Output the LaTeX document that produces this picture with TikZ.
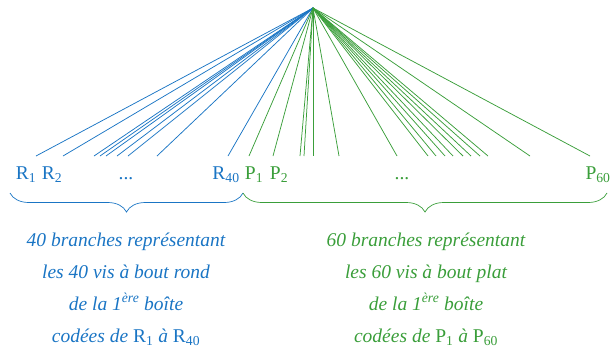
\documentclass[tikz,border=0pt]{standalone}
\usepackage{fontspec}
\setmainfont{Liberation Serif}
\usetikzlibrary{decorations.pathreplacing}
\definecolor{bl}{RGB}{26,117,196}
\definecolor{gr}{RGB}{58,158,58}
\tikzset{
  bline/.style={draw=bl, line width=0.75pt},
  gline/.style={draw=gr, line width=0.75pt},
  leaflab/.style={anchor=base, inner sep=0pt, font=\fontsize{19.5}{22}\selectfont},
  brc/.style={decorate, decoration={brace, mirror, amplitude=19pt}, line width=0.7pt},
  txt/.style={align=center, inner sep=0pt, font=\fontsize{19.5}{32}\selectfont\itshape}
}
\begin{document}
\begin{tikzpicture}[x=1pt,y=-1pt]
\useasboundingbox (0,0) rectangle (610,351);
\coordinate (root) at (313,8);
\foreach \x [count=\i] in {36,63,94,100,106,117,128,157,228} {
  \coordinate (b\i) at (\x,156);
  \draw[bline] (root) -- (b\i);
}
\foreach \x [count=\i] in {249,273,300,304,313,339,397,428,436,445,453,463,471,480,488,530,590} {
  \coordinate (g\i) at (\x,156);
  \draw[gline] (root) -- (g\i);
}
\node[leaflab, text=bl] (r1) at (26,179) {R\textsubscript{1}};
\node[leaflab, text=bl] (r2) at (52,179) {R\textsubscript{2}};
\node[leaflab, text=bl] (rd) at (126,179) {...};
\node[leaflab, text=bl] (r40) at (226,179) {R\textsubscript{40}};
\node[leaflab, text=gr] (p1) at (254,179) {P\textsubscript{1}};
\node[leaflab, text=gr] (p2) at (279,179) {P\textsubscript{2}};
\node[leaflab, text=gr] (pd) at (402,179) {...};
\node[leaflab, text=gr] (p60) at (598,179) {P\textsubscript{60}};
\coordinate (bA) at (10,193);
\coordinate (bB) at (243,193);
\coordinate (gA) at (243,193);
\coordinate (gB) at (607,193);
\draw[brc, draw=bl] (bA) -- (bB);
\draw[brc, draw=gr] (gA) -- (gB);
\node[txt, text=bl] (tb) at (126,289) {40 branches représentant\\les 40 vis à bout rond\\de la 1\textsuperscript{ère} boîte\\codées de {\upshape R\textsubscript{1}} à {\upshape R\textsubscript{40}}};
\node[txt, text=gr] (tg) at (426,289) {60 branches représentant\\les 60 vis à bout plat\\de la 1\textsuperscript{ère} boîte\\codées de {\upshape P\textsubscript{1}} à {\upshape P\textsubscript{60}}};
\end{tikzpicture}
\end{document}
